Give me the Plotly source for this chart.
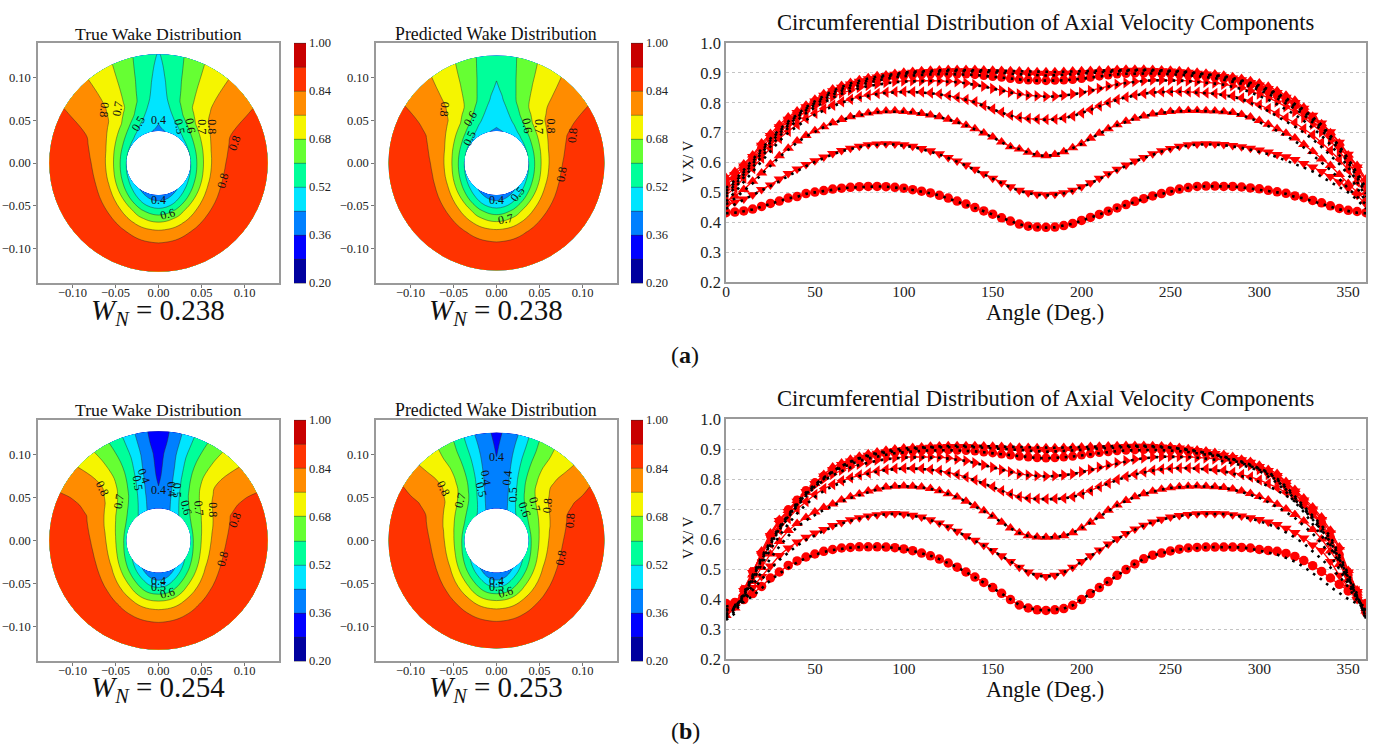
import numpy as np
import plotly.graph_objects as go

angles = list(range(0, 365, 5))

# ---------- panel (a): true (black dotted) profiles, one per radius ----------
a_true_r30 = [.430,.432,.437,.443,.452,.462,.470,.480,.485,.495,.500,.505,.510,.513,.516,.518,.519,.520,.519,.517,.513,.508,.503,.497,.490,.480,.470,.460,.448,.437,.426,.414,.403,.393,.386,.383,.382,
 .383,.388,.395,.405,.415,.425,.436,.447,.458,.469,.478,.487,.495,.503,.510,.515,.519,.520,.520,.520,.520,.517,.513,.510,.505,.500,.495,.485,.480,.470,.462,.452,.443,.437,.432,.430]
a_true_r40 = [.445,.460,.475,.490,.505,.520,.537,.555,.572,.588,.602,.615,.627,.638,.646,.652,.657,.660,.661,.660,.657,.652,.645,.637,.627,.615,.603,.590,.575,.560,.545,.530,.517,.505,.497,.492,.490,
 .492,.497,.505,.517,.530,.545,.560,.575,.590,.603,.615,.627,.637,.645,.652,.657,.660,.661,.660,.658,.654,.649,.643,.636,.628,.618,.607,.596,.583,.570,.553,.535,.518,.500,.475,.445]
a_true_r50 = [.460,.480,.505,.530,.560,.590,.618,.643,.667,.687,.703,.718,.731,.742,.751,.758,.764,.768,.770,.771,.770,.767,.763,.758,.752,.744,.735,.724,.712,.698,.684,.668,.652,.645,.633,.625,.622,
 .626,.635,.648,.662,.680,.697,.712,.725,.737,.747,.755,.761,.766,.770,.772,.773,.773,.772,.771,.769,.765,.758,.748,.736,.722,.706,.690,.672,.650,.625,.600,.575,.545,.513,.485,.460]
a_true_r60 = [.470,.500,.535,.570,.605,.640,.672,.700,.722,.742,.760,.775,.788,.800,.810,.817,.824,.829,.833,.835,.836,.836,.835,.832,.828,.823,.817,.810,.802,.790,.778,.767,.757,.750,.746,.744,.743,
 .744,.748,.755,.765,.776,.788,.800,.810,.818,.825,.830,.834,.836,.837,.837,.836,.834,.832,.830,.826,.820,.812,.800,.787,.772,.755,.738,.720,.700,.678,.652,.625,.595,.560,.515,.470]
a_true_r70 = [.485,.515,.550,.585,.620,.655,.688,.716,.742,.765,.785,.802,.817,.830,.840,.849,.856,.861,.866,.869,.871,.872,.873,.873,.872,.871,.869,.865,.860,.854,.847,.840,.834,.828,.824,.822,.820,
 .821,.824,.828,.833,.840,.847,.855,.861,.866,.870,.873,.875,.875,.875,.874,.872,.870,.867,.864,.860,.854,.846,.835,.823,.810,.795,.778,.760,.740,.716,.690,.660,.625,.585,.535,.485]
a_true_r80 = [.495,.525,.560,.597,.632,.667,.698,.726,.752,.775,.795,.812,.827,.840,.850,.859,.867,.874,.880,.885,.889,.892,.893,.895,.896,.896,.895,.895,.893,.890,.887,.884,.880,.877,.875,.874,.873,
 .874,.875,.877,.880,.884,.888,.892,.895,.897,.898,.898,.898,.897,.896,.894,.892,.889,.886,.882,.877,.871,.864,.854,.843,.830,.815,.798,.780,.760,.735,.708,.678,.642,.600,.550,.495]
a_true_r90 = [.505,.533,.568,.604,.640,.674,.705,.732,.757,.780,.800,.818,.834,.847,.858,.867,.875,.882,.888,.893,.897,.900,.902,.904,.905,.906,.906,.906,.905,.903,.902,.900,.897,.895,.893,.892,.891,
 .892,.893,.895,.897,.900,.902,.904,.906,.907,.908,.908,.907,.906,.905,.903,.900,.897,.894,.890,.885,.879,.872,.862,.852,.840,.825,.808,.790,.770,.745,.718,.688,.652,.610,.560,.505]
a_true_r100 = [.515,.540,.575,.610,.645,.680,.710,.737,.760,.785,.805,.822,.840,.853,.865,.874,.882,.888,.892,.897,.901,.904,.906,.908,.909,.910,.910,.910,.910,.909,.908,.907,.906,.905,.904,.903,.903,
 .903,.904,.905,.906,.907,.908,.909,.910,.911,.911,.911,.910,.909,.908,.906,.903,.900,.897,.893,.889,.883,.876,.867,.858,.846,.832,.815,.797,.777,.752,.726,.690,.655,.612,.565,.515]

# ---------- panel (a): predicted (red marker) profiles ----------
a_pred_r30 = [.432,.434,.438,.444,.453,.463,.471,.481,.486,.496,.501,.506,.511,.514,.517,.519,.520,.520,.519,.517,.514,.509,.504,.498,.490,.481,.471,.461,.449,.438,.427,.415,.404,.394,.387,.384,.383,
 .384,.389,.396,.406,.416,.426,.437,.448,.459,.470,.479,.488,.496,.504,.511,.516,.520,.521,.521,.520,.520,.518,.515,.512,.507,.502,.497,.488,.482,.473,.465,.455,.446,.440,.436,.432]
a_pred_r40 = [.455,.468,.478,.492,.510,.525,.545,.563,.578,.593,.606,.618,.630,.640,.648,.654,.659,.662,.663,.662,.659,.654,.647,.639,.629,.617,.605,.592,.577,.562,.547,.532,.519,.507,.499,.494,.492,
 .494,.499,.507,.519,.532,.547,.562,.577,.592,.605,.617,.629,.639,.647,.654,.659,.662,.663,.662,.660,.657,.653,.648,.642,.635,.627,.619,.610,.597,.585,.570,.553,.535,.515,.490,.460]
a_pred_r50 = [.470,.487,.510,.537,.565,.595,.623,.648,.672,.690,.706,.720,.733,.744,.753,.760,.766,.770,.772,.773,.771,.768,.764,.759,.753,.745,.736,.725,.713,.699,.685,.669,.653,.645,.634,.626,.623,
 .627,.636,.649,.663,.681,.698,.713,.726,.738,.748,.756,.762,.767,.771,.773,.774,.774,.773,.772,.770,.767,.761,.752,.741,.728,.713,.698,.682,.660,.637,.612,.590,.560,.530,.500,.475]
a_pred_r60 = [.490,.515,.548,.580,.615,.648,.680,.705,.727,.747,.765,.780,.792,.803,.812,.820,.826,.831,.835,.837,.838,.837,.836,.833,.829,.824,.818,.811,.803,.791,.779,.768,.758,.751,.747,.745,.744,
 .745,.749,.756,.766,.777,.789,.801,.811,.819,.826,.831,.835,.837,.838,.838,.837,.835,.833,.831,.828,.823,.816,.805,.793,.780,.765,.750,.733,.713,.692,.667,.640,.610,.575,.535,.495]
a_pred_r70 = [.510,.535,.568,.600,.637,.670,.700,.727,.750,.772,.790,.806,.820,.832,.842,.851,.858,.863,.868,.871,.873,.874,.874,.874,.873,.872,.870,.866,.861,.855,.848,.841,.835,.829,.825,.823,.821,
 .822,.825,.829,.834,.841,.848,.856,.862,.867,.871,.874,.876,.876,.876,.875,.873,.871,.869,.866,.862,.857,.850,.840,.829,.817,.803,.787,.770,.751,.728,.702,.672,.638,.600,.555,.510]
a_pred_r80 = [.525,.548,.580,.612,.650,.682,.712,.738,.760,.780,.800,.818,.832,.845,.855,.863,.871,.877,.882,.887,.890,.893,.894,.896,.897,.897,.896,.896,.894,.891,.888,.885,.881,.878,.876,.875,.874,
 .875,.876,.878,.881,.885,.889,.893,.896,.898,.899,.899,.899,.898,.897,.895,.893,.891,.888,.885,.880,.875,.869,.860,.850,.838,.824,.808,.791,.772,.748,.722,.692,.657,.615,.572,.525]
a_pred_r90 = [.540,.560,.588,.620,.658,.690,.720,.745,.767,.787,.806,.825,.840,.852,.863,.872,.880,.886,.891,.895,.899,.902,.904,.905,.906,.907,.907,.907,.906,.904,.903,.901,.898,.896,.894,.893,.892,
 .893,.894,.896,.898,.901,.903,.905,.907,.908,.909,.909,.908,.907,.906,.904,.902,.899,.896,.893,.888,.883,.877,.868,.859,.848,.834,.818,.801,.782,.758,.732,.703,.668,.628,.585,.538]
a_pred_r100 = [.550,.570,.595,.625,.665,.697,.727,.752,.772,.792,.812,.830,.846,.858,.868,.877,.884,.890,.893,.898,.902,.905,.907,.909,.910,.911,.911,.911,.911,.910,.909,.908,.907,.906,.905,.904,.904,
 .904,.905,.906,.907,.908,.909,.910,.911,.912,.912,.912,.911,.910,.909,.907,.905,.902,.899,.896,.892,.887,.881,.874,.866,.855,.840,.825,.808,.785,.755,.730,.700,.665,.625,.590,.545]

# ---------- panel (b): true (black dotted) profiles ----------
b_true_r30 = [.375,.380,.390,.410,.435,.462,.485,.505,.522,.537,.548,.557,.563,.568,.571,.573,.574,.574,.573,.571,.567,.561,.553,.544,.533,.520,.506,.490,.473,.455,.437,.418,.398,.380,.370,.364,.362,
 .364,.368,.379,.398,.418,.438,.458,.479,.498,.517,.534,.545,.553,.560,.565,.568,.570,.572,.573,.573,.573,.572,.568,.562,.556,.548,.537,.525,.507,.487,.465,.440,.420,.400,.385,.375]
b_true_r40 = [.365,.375,.395,.430,.465,.500,.530,.555,.578,.597,.613,.627,.640,.652,.661,.669,.675,.680,.683,.684,.682,.678,.672,.663,.652,.640,.625,.610,.595,.578,.561,.543,.524,.505,.489,.478,.474,
 .478,.489,.505,.524,.543,.562,.582,.600,.617,.632,.645,.656,.665,.672,.677,.681,.683,.684,.684,.683,.680,.675,.668,.660,.650,.638,.622,.605,.585,.560,.533,.505,.475,.440,.395,.365]
b_true_r50 = [.360,.375,.405,.445,.490,.535,.575,.610,.640,.662,.680,.697,.710,.725,.737,.747,.757,.765,.771,.775,.776,.775,.772,.767,.760,.750,.739,.725,.710,.693,.675,.655,.636,.620,.610,.606,.605,
 .606,.610,.620,.636,.655,.675,.695,.712,.727,.740,.750,.758,.765,.770,.773,.775,.776,.775,.773,.770,.765,.757,.748,.737,.723,.707,.690,.670,.645,.618,.585,.545,.500,.450,.400,.360]
b_true_r60 = [.350,.372,.410,.460,.515,.565,.610,.650,.685,.715,.740,.760,.776,.789,.800,.810,.818,.825,.830,.833,.835,.835,.834,.831,.827,.821,.814,.806,.796,.785,.773,.760,.749,.740,.735,.733,.732,
 .733,.735,.740,.749,.760,.773,.785,.797,.807,.815,.822,.828,.832,.835,.836,.836,.835,.832,.829,.825,.818,.810,.801,.790,.777,.762,.745,.725,.700,.668,.625,.580,.525,.465,.405,.350]
b_true_r70 = [.345,.370,.415,.470,.530,.585,.635,.675,.715,.750,.775,.795,.812,.826,.838,.847,.855,.861,.866,.869,.871,.872,.872,.872,.871,.868,.864,.860,.853,.846,.838,.830,.823,.816,.812,.810,.808,
 .810,.812,.816,.823,.830,.838,.846,.853,.860,.865,.869,.872,.874,.874,.874,.873,.871,.868,.864,.859,.853,.846,.838,.827,.808,.787,.757,.725,.690,.650,.612,.572,.520,.462,.400,.345]
b_true_r80 = [.340,.368,.420,.480,.540,.592,.640,.680,.722,.755,.782,.805,.823,.838,.850,.860,.868,.875,.881,.886,.889,.892,.894,.895,.896,.896,.895,.894,.892,.889,.886,.882,.879,.875,.872,.870,.869,
 .870,.872,.875,.879,.883,.887,.890,.893,.895,.896,.897,.897,.896,.895,.893,.890,.886,.882,.877,.870,.862,.853,.843,.831,.815,.795,.765,.732,.700,.665,.630,.590,.533,.472,.405,.340]
b_true_r90 = [.335,.360,.415,.475,.535,.588,.638,.678,.716,.750,.780,.804,.826,.843,.857,.868,.877,.884,.889,.893,.897,.900,.903,.905,.906,.907,.907,.907,.906,.904,.902,.900,.897,.895,.893,.892,.891,
 .892,.893,.895,.897,.900,.902,.904,.906,.907,.908,.908,.907,.906,.904,.901,.897,.892,.887,.881,.874,.866,.856,.846,.834,.821,.798,.770,.737,.705,.670,.638,.600,.540,.478,.410,.335]
b_true_r100 = [.330,.352,.410,.470,.530,.582,.630,.672,.710,.742,.774,.800,.825,.843,.858,.870,.880,.887,.893,.898,.902,.904,.906,.908,.909,.910,.911,.911,.911,.910,.909,.908,.907,.906,.905,.904,.904,
 .904,.905,.906,.907,.908,.909,.910,.911,.911,.911,.911,.910,.908,.905,.902,.898,.893,.888,.882,.875,.867,.858,.848,.836,.823,.802,.775,.742,.710,.675,.645,.608,.548,.484,.416,.330]

# ---------- panel (b): predicted (red marker) profiles ----------
b_pred_r30 = [.385,.388,.398,.418,.442,.470,.490,.512,.527,.540,.550,.559,.565,.570,.572,.574,.574,.574,.573,.571,.567,.561,.553,.544,.533,.520,.506,.490,.473,.455,.438,.419,.398,.380,.370,.364,.362,
 .364,.368,.379,.398,.418,.438,.458,.479,.498,.517,.534,.546,.553,.560,.566,.570,.572,.573,.573,.573,.573,.572,.570,.565,.562,.559,.552,.542,.528,.511,.492,.470,.449,.427,.405,.385]
b_pred_r40 = [.380,.386,.405,.438,.475,.510,.545,.570,.590,.606,.620,.632,.645,.655,.664,.671,.677,.681,.684,.685,.683,.679,.673,.664,.653,.641,.626,.611,.596,.579,.562,.544,.525,.506,.490,.479,.475,
 .479,.490,.506,.525,.544,.563,.583,.601,.618,.633,.646,.657,.666,.673,.678,.682,.684,.685,.685,.684,.681,.677,.671,.665,.657,.648,.636,.622,.603,.580,.562,.525,.479,.440,.398,.380]
b_pred_r50 = [.375,.385,.415,.458,.505,.550,.592,.628,.652,.672,.690,.705,.717,.730,.741,.750,.760,.767,.773,.776,.777,.776,.773,.768,.761,.751,.740,.726,.711,.694,.676,.656,.637,.621,.611,.607,.606,
 .607,.611,.621,.637,.656,.676,.696,.713,.728,.741,.751,.759,.766,.771,.774,.776,.777,.776,.774,.772,.767,.760,.752,.742,.730,.716,.700,.682,.660,.632,.600,.560,.515,.465,.420,.375]
b_pred_r60 = [.370,.385,.425,.478,.530,.585,.630,.668,.700,.725,.748,.768,.782,.794,.804,.813,.820,.827,.832,.835,.836,.836,.835,.832,.828,.822,.815,.807,.797,.786,.774,.761,.750,.741,.736,.734,.733,
 .734,.736,.741,.750,.761,.774,.786,.798,.808,.816,.823,.829,.833,.836,.837,.837,.836,.834,.831,.828,.822,.815,.807,.797,.785,.771,.755,.737,.715,.686,.645,.600,.545,.485,.425,.370]
b_pred_r70 = [.365,.383,.430,.488,.545,.602,.650,.690,.725,.757,.780,.800,.816,.829,.840,.849,.857,.863,.868,.871,.873,.874,.874,.874,.873,.870,.866,.861,.854,.847,.839,.831,.824,.817,.813,.811,.809,
 .811,.813,.817,.824,.831,.839,.847,.854,.861,.866,.870,.873,.875,.875,.875,.874,.872,.870,.867,.863,.858,.852,.845,.832,.815,.795,.775,.750,.720,.685,.640,.590,.535,.470,.410,.360]
b_pred_r80 = [.358,.380,.432,.492,.552,.610,.660,.698,.730,.762,.788,.810,.828,.842,.853,.863,.871,.878,.884,.888,.891,.893,.895,.896,.897,.897,.896,.895,.893,.890,.887,.883,.880,.876,.873,.871,.870,
 .871,.873,.876,.880,.884,.888,.891,.894,.896,.897,.898,.898,.897,.896,.894,.892,.889,.885,.880,.875,.868,.860,.852,.838,.822,.805,.780,.752,.722,.690,.655,.605,.548,.480,.420,.355]
b_pred_r90 = [.352,.375,.428,.488,.552,.612,.662,.692,.726,.758,.785,.810,.832,.848,.860,.870,.879,.886,.891,.895,.898,.901,.904,.906,.907,.908,.908,.908,.907,.905,.903,.901,.898,.896,.894,.893,.892,
 .893,.894,.896,.898,.901,.903,.905,.907,.908,.909,.909,.908,.907,.905,.903,.899,.895,.891,.885,.879,.872,.864,.856,.842,.828,.812,.788,.760,.730,.700,.665,.620,.565,.490,.425,.355]
b_pred_r100 = [.345,.370,.420,.480,.560,.620,.665,.695,.728,.755,.785,.815,.840,.853,.866,.876,.884,.890,.896,.900,.903,.905,.907,.909,.910,.911,.911,.911,.911,.910,.909,.908,.907,.906,.905,.904,.904,
 .904,.905,.906,.907,.908,.909,.910,.911,.912,.912,.912,.911,.910,.908,.905,.901,.897,.893,.888,.882,.875,.866,.858,.846,.832,.818,.792,.765,.737,.707,.673,.629,.573,.495,.430,.360]

true_radii = [.0373, .0501, .0629, .0757, .0885, .1013, .1141, .1270]
pred_radii = [.0373, .0499, .0625, .0751, .0877, .1003, .1129, .1255]

band_colors = ["#00009f", "#0000ff", "#0080ff", "#00e5ff", "#00ff9a", "#66ff33", "#f5f500", "#ff8c00", "#ff3300", "#c80000"]
colorbar_ticks = [0.20, 0.36, 0.52, 0.68, 0.84, 1.00]
radius_markers = ["circle", "triangle-down", "triangle-up", "triangle-left", "triangle-right", "circle", "triangle-down", "triangle-up"]
marker_sizes = [9.5, 10, 10, 10, 10, 9, 10, 10]

a_true = [a_true_r30, a_true_r40, a_true_r50, a_true_r60, a_true_r70, a_true_r80, a_true_r90, a_true_r100]
a_pred = [a_pred_r30, a_pred_r40, a_pred_r50, a_pred_r60, a_pred_r70, a_pred_r80, a_pred_r90, a_pred_r100]
b_true = [b_true_r30, b_true_r40, b_true_r50, b_true_r60, b_true_r70, b_true_r80, b_true_r90, b_true_r100]
b_pred = [b_pred_r30, b_pred_r40, b_pred_r50, b_pred_r60, b_pred_r70, b_pred_r80, b_pred_r90, b_pred_r100]
for group in (a_true, a_pred, b_true, b_pred):
    for s in group:
        assert len(s) == 73, len(s)

# contour label text: x, y, text, rotation
labels_a_true = [(-.0634,.0615,"0.8",95),(-.0471,.0638,"0.7",-80),(-.0237,.0455,"0.5",-60),(0,.0506,"0.4",0),(.0241,.0428,"0.5",80),(.0366,.044,"0.6",80),
                 (.0502,.042,"0.7",90),(.0618,.042,"0.8",90),(.0883,.0233,"0.8",-70),(.0743,-.0206,"0.8",-75),(0,-.0436,"0.4",0),(.0105,-.0591,"0.6",-15)]
labels_a_pred = [(-.0599,.0622,"0.8",95),(-.0307,.0513,"0.6",-60),(-.0319,.0284,"0.5",-65),(.0354,.0428,"0.6",80),(.0486,.0428,"0.7",90),(.0634,.0436,"0.8",90),
                 (.0879,.0319,"0.8",-85),(.0751,-.0136,"0.8",-80),(0,-.0428,"0.4",0),(.0245,-.0362,"0.5",-50),(.0109,-.0653,"0.7",-10)]
labels_b_true = [(-.0646,.0603,"0.8",65),(-.0459,.0459,"0.7",-80),(-.0171,.0747,"0.4",70),(-.0237,.0673,"0.5",80),(0,.0591,"0.4",0),(.0152,.0595,"0.4",85),(.021,.0583,"0.5",90),
                 (.0327,.0381,"0.6",75),(.0471,.0381,"0.7",85),(.0638,.0358,"0.8",90),(.0891,.0233,"0.8",-70),(.0743,-.0214,"0.8",-75),(0,-.0467,"0.4",0),(0,-.0545,"0.5",0),(.0105,-.0615,"0.6",-15)]
labels_b_pred = [(-.0611,.0603,"0.8",65),(-.0424,.0459,"0.7",-75),(0,.0965,"0.4",0),(-.0117,.0731,"0.4",80),(-.0171,.0591,"0.5",75),(.0121,.0731,"0.4",-85),(.0187,.0533,"0.5",-90),
                 (.0323,.0362,"0.6",70),(.044,.042,"0.7",75),(.0595,.0408,"0.8",-85),(.0856,.0226,"0.8",-85),(.0751,-.0206,"0.8",-80),(0,-.0467,"0.4",0),(0,-.0545,"0.5",0),(.0109,-.0595,"0.6",-15)]

W, H = 1379, 747
FONT = "Liberation Serif"
LEVEL_NUDGE = 0.0004   # keeps values from lying exactly on a contour level
fx = lambda p: p / W
fy = lambda p: 1 - p / H
fig = go.Figure()
layout = {}
annots = []

def stepped_scale():
    # plotly samples a filled band at the band centre: fraction (k + 1) / 11
    n = 11
    cols = [band_colors[0]] + band_colors + [band_colors[-1]]
    edges = [0.0] + [(k + 0.5) / n for k in range(n)] + [1.0]
    out = []
    for i, c in enumerate(cols):
        out.append([edges[i], c])
        out.append([edges[i + 1], c])
    return out

def contour_panel(idx, rows, radii, left, right, top, bottom, cb_x, labels):
    ax = "" if idx == 1 else str(idx)
    half = [list(s[:37]) + list(s[:36][::-1]) for s in rows]
    z = np.array(half).T + LEVEL_NUDGE            # [angle][radius]
    th = np.radians(angles)
    rr = np.array(radii)
    X = np.outer(np.sin(th), rr)
    Y = np.outer(np.cos(th), rr)
    cid = f"c{idx}"
    hidden = dict(showgrid=False, showline=False, showticklabels="none", startline=False, endline=False, minorgridcount=0, smoothing=0)
    fig.add_trace(go.Carpet(
        carpet=cid, a=radii, b=angles, x=X.tolist(), y=Y.tolist(),
        xaxis=f"x{ax}", yaxis=f"y{ax}", aaxis=hidden, baxis=hidden,
    ))
    fig.add_trace(go.Contourcarpet(
        carpet=cid, a=radii, b=angles, z=z.tolist(), xaxis=f"x{ax}", yaxis=f"y{ax}",
        autocontour=False, contours=dict(start=.2, end=1.0, size=.08, coloring="fill", showlines=True, showlabels=False),
        line=dict(color="rgba(40,40,40,0.75)", width=.6),
        colorscale=stepped_scale(), zmin=.2, zmax=1.0,
        colorbar=dict(x=fx(cb_x), xanchor="left", y=fy(top), yanchor="top", lenmode="pixels", len=bottom - top,
                      thicknessmode="pixels", thickness=12, xpad=0, ypad=0, outlinewidth=0, tickmode="array",
                      tickvals=colorbar_ticks, tickformat=".2f", ticks="",
                      tickfont=dict(family=FONT, size=12.5, color="#222")),
    ))
    common = dict(showgrid=False, zeroline=False, showline=True, mirror=True, linecolor="#9a9a9a", linewidth=1.5,
                  ticks="outside", ticklen=3, tickcolor="#777", tickfont=dict(family=FONT, size=12.5, color="#222"),
                  tickmode="array", tickvals=[-.1, -.05, 0, .05, .1], tickformat=".2f", range=[-.14, .14])
    layout[f"xaxis{ax}"] = dict(domain=[fx(left), fx(right)], anchor=f"y{ax}", ticklabelstandoff=-6, **common)
    layout[f"yaxis{ax}"] = dict(domain=[fy(bottom), fy(top)], anchor=f"x{ax}", **common)
    for (x, y, t, rot) in labels:
        annots.append(dict(x=x, y=y, xref=f"x{ax}", yref=f"y{ax}", text=t, textangle=rot, showarrow=False,
                           font=dict(family=FONT, size=12, color="#111")))

def line_panel(idx, true_rows, pred_rows, left, right, top, bottom):
    ax = str(idx)
    for s, mk, ms in zip(pred_rows, radius_markers, marker_sizes):
        fig.add_trace(go.Scatter(x=angles, y=s, mode="lines+markers", xaxis=f"x{ax}", yaxis=f"y{ax}", showlegend=False,
                                 line=dict(color="#ff0000", width=1.3), marker=dict(symbol=mk, size=ms, color="#ff0000"), cliponaxis=True))
    for s in true_rows:
        fig.add_trace(go.Scatter(x=angles, y=s, mode="lines", xaxis=f"x{ax}", yaxis=f"y{ax}", showlegend=False,
                                 line=dict(color="#000000", width=2.6, dash="2.6px,5.6px"), cliponaxis=True))
    layout[f"xaxis{ax}"] = dict(domain=[fx(left), fx(right)], anchor=f"y{ax}", range=[0, 360], tickmode="array", tickvals=list(range(0, 360, 50)),
                                showgrid=False, zeroline=False, showline=True, mirror=True, linecolor="#9a9a9a", linewidth=1.5, ticks="",
                                ticklabelstandoff=-5, tickfont=dict(family=FONT, size=15.5, color="#222"))
    layout[f"yaxis{ax}"] = dict(domain=[fy(bottom), fy(top)], anchor=f"x{ax}", range=[.2, 1.0], tickmode="array",
                                tickvals=[.2, .3, .4, .5, .6, .7, .8, .9, 1.0], tickformat=".1f", showgrid=True, gridcolor="#c4c4c4", griddash="dot", gridwidth=1,
                                zeroline=False, showline=True, mirror=True, linecolor="#9a9a9a", linewidth=1.5, ticks="",
                                tickfont=dict(family=FONT, size=16.5, color="#222"))

def text(x, y, t, size, rot=0):
    annots.append(dict(x=fx(x), y=fy(y), xref="paper", yref="paper", text=t, showarrow=False, textangle=rot,
                       xanchor="center", yanchor="middle", font=dict(family=FONT, size=size, color="#111")))

contour_panel(1, a_true, true_radii, 38, 279, 43, 283, 294, labels_a_true)
contour_panel(2, a_pred, pred_radii, 376, 617, 43, 283, 631, labels_a_pred)
contour_panel(3, b_true, true_radii, 38, 279, 420, 661, 294, labels_b_true)
contour_panel(4, b_pred, pred_radii, 376, 617, 420, 661, 631, labels_b_pred)
line_panel(5, a_true, a_pred, 726, 1366, 43, 282)
line_panel(6, b_true, b_pred, 726, 1366, 419, 659)

for ytitle, yw, yline, yx, wn1, wn2 in [(34, 312, 22, 312, 0.238, 0.238), (410, 689, 398, 689, 0.254, 0.253)]:
    text(158, ytitle, "True Wake Distribution", 17.7)
    text(496, ytitle, "Predicted Wake Distribution", 17.8)
    text(158, yw, f"<i>W</i><sub><i>N</i></sub> = {wn1:.3f}", 29)
    text(496, yw, f"<i>W</i><sub><i>N</i></sub> = {wn2:.3f}", 29)
    text(1045, yline, "Circumferential Distribution of Axial Velocity Components", 22.6)
    text(1045, yx, "Angle (Deg.)", 22.4)
    text(688, yline + 140, "V X/ V", 14.5, rot=-90)
text(685, 355, "(<b>a</b>)", 24)
text(685, 731, "(<b>b</b>)", 24)

fig.update_layout(width=W, height=H, margin=dict(l=0, r=0, t=0, b=0, autoexpand=False), paper_bgcolor="white", plot_bgcolor="white",
                  showlegend=False, annotations=annots, **layout)
fig.write_html("out.html", post_script="document.body.style.margin='0';", config={"displayModeBar": False})
